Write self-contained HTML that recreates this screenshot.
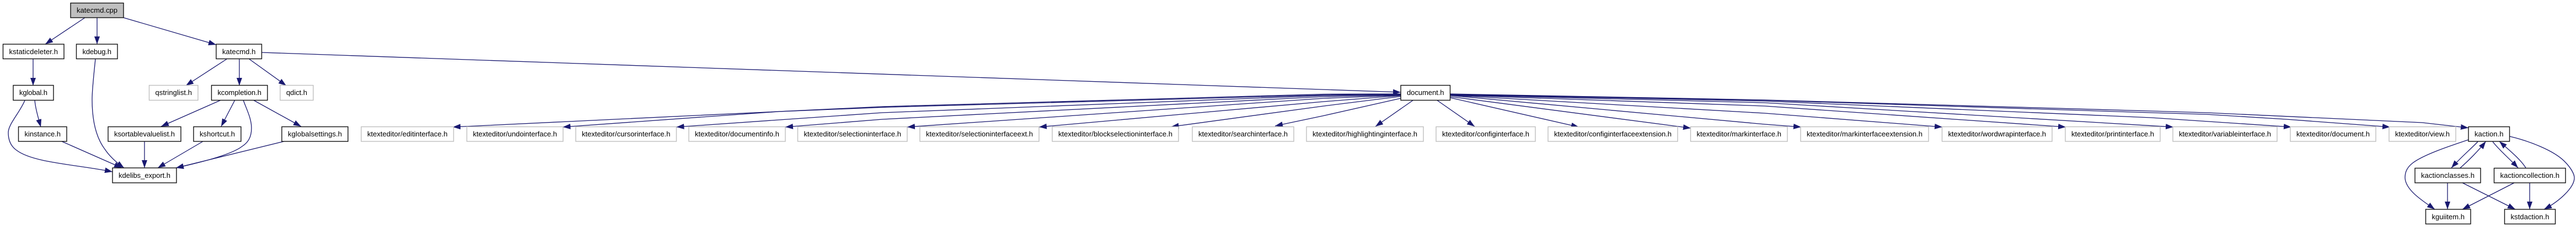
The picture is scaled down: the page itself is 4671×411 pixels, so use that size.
<!DOCTYPE html>
<html>
<head>
<meta charset="utf-8">
<title>katecmd.cpp include graph</title>
<style>
html,body{margin:0;padding:0;background:#fff;}
svg{display:block;}
text{font-family:"Liberation Sans",Arial,sans-serif;font-size:13px;fill:#000;text-anchor:middle;}
.e path{fill:none;stroke:#191970;stroke-width:1.3;marker-end:url(#a);}
.b rect{fill:#fff;stroke:#111;stroke-width:1.4;}
.g rect{fill:#fff;stroke:#bfbfbf;stroke-width:1.4;}
</style>
</head>
<body>
<svg width="4671" height="411" viewBox="0 0 4671 411" xmlns="http://www.w3.org/2000/svg">
<defs>
<marker id="a" markerUnits="userSpaceOnUse" markerWidth="14" markerHeight="10" refX="14" refY="5" orient="auto">
<path d="M0,0 L14,5 L0,10 Z" fill="#191970"/>
</marker>
</defs>

<g class="e">
<path d="M154,32 L82,80"/>
<path d="M176,32 L176,80"/>
<path d="M224,32 L392,81"/>
<path d="M60,107 L60,155"/>
<path d="M63,181 C64,195 69,212 74,230"/>
<path d="M45,182 C35,205 15,225 15,240 C15,255 20,265 30,272 C60,295 140,298 204,311"/>
<path d="M173,107 C170,135 167,165 167,180 C167,220 175,250 190,270 C200,285 215,297 225,304"/>
<path d="M112,256 L221,304"/>
<path d="M262,256 L262,304"/>
<path d="M368,256 L286,304"/>
<path d="M515,256 L319,304"/>
<path d="M441,181 C448,200 456,215 456,232 C456,248 450,258 439,265 C420,280 360,295 319,304"/>
<path d="M411,107 L337,155"/>
<path d="M434,107 L434,155"/>
<path d="M452,107 L519,155"/>
<path d="M475,95 L2540,167"/>
<path d="M401,181 L292,229"/>
<path d="M426,181 L401,229"/>
<path d="M459,181 L546,229"/>

<path d="M2540,170 L2400,170.5 L1600,193 L821,230"/>
<path d="M2540,170.5 L2400,172 L1600,194.3 L1412,202 L1020.5,230"/>
<path d="M2540,171 L2400,173 L1600,204 L1226.5,230"/>
<path d="M2540,172 L2400,175 L1600,216 L1424,230"/>
<path d="M2540,172.5 L2400,178 L1645,230"/>
<path d="M2540,173 L2400,184 L1884,230"/>
<path d="M2540,174.5 L2400,192 L2123.5,229.5"/>
<path d="M2540,178 L2400,209.5 L2312,228"/>
<path d="M2563,181 L2494,229"/>
<path d="M2605,181 L2674,229"/>
<path d="M2630,177 L2863,230"/>
<path d="M2630,175 L3066,232"/>
<path d="M2630,173 L3200,225 L3266,230"/>
<path d="M2630,172.5 L3200,205 L3522,230"/>
<path d="M2630,172 L3200,192 L3746,230"/>
<path d="M2630,171.5 L3200,186 L3941,230"/>
<path d="M2630,171 L3200,183 L3900,213 L4155,230"/>
<path d="M2630,170.5 L3200,181.5 L3900,204 L4000,207 L4146,216 L4334,230"/>
<path d="M2630,170 L3200,181 L3900,201 L4000,204 L4392,222 L4476,231.5"/>

<path d="M4476,253 C4440,265 4395,280 4375,295 C4362,305 4361,315 4361,322 C4362,345 4395,365 4415,379"/>
<path d="M4551,247 C4585,255 4630,272 4650,292 C4662,304 4668,315 4668,322 C4668,340 4640,365 4613,379"/>
<path d="M4493,256.5 C4480,270 4462,285 4445,304"/>
<path d="M4461,304 C4475,292 4495,272 4507.5,256"/>
<path d="M4520,256.5 C4530,270 4548,285 4566,304"/>
<path d="M4580,304 C4570,288 4550,272 4532,256"/>
<path d="M4438,331 L4438,379"/>
<path d="M4465,331 L4561,379"/>
<path d="M4559,331 L4465,379"/>
<path d="M4587,331 L4587,379"/>
</g>

<g class="b">
<rect x="128" y="5.5" width="96" height="26.5" style="fill:#bfbfbf"/><text x="176" y="23" textLength="74">katecmd.cpp</text>
<rect x="5.5" y="80" width="110.5" height="26.5"/><text x="60.75" y="98" textLength="88.5">kstaticdeleter.h</text>
<rect x="138.5" y="80" width="74.5" height="26.5"/><text x="175.75" y="98" textLength="52.5">kdebug.h</text>
<rect x="392" y="80" width="82.5" height="26.5"/><text x="433.25" y="98" textLength="60.5">katecmd.h</text>
<rect x="24" y="154.5" width="73" height="27"/><text x="60.5" y="172" textLength="51">kglobal.h</text>
<rect x="383.5" y="154.5" width="101.5" height="27"/><text x="434.25" y="172" textLength="79.5">kcompletion.h</text>
<rect x="2540" y="154.5" width="89.5" height="27"/><text x="2584.75" y="172" textLength="67.5">document.h</text>
<rect x="33.5" y="229.5" width="87.5" height="26.5"/><text x="77.25" y="247" textLength="65.5">kinstance.h</text>
<rect x="196" y="229.5" width="132" height="26.5"/><text x="262" y="247" textLength="110">ksortablevaluelist.h</text>
<rect x="351" y="229.5" width="86" height="26.5"/><text x="394" y="247" textLength="64">kshortcut.h</text>
<rect x="511" y="229.5" width="120" height="26.5"/><text x="571" y="247" textLength="98">kglobalsettings.h</text>
<rect x="4476" y="229.5" width="74.5" height="26.5"/><text x="4513.25" y="247" textLength="52.5">kaction.h</text>
<rect x="204" y="304" width="116" height="27"/><text x="262" y="322" textLength="94">kdelibs_export.h</text>
<rect x="4379" y="304.5" width="119" height="26.5"/><text x="4438.5" y="322" textLength="97">kactionclasses.h</text>
<rect x="4522.5" y="304.5" width="129.5" height="26.5"/><text x="4587.25" y="322" textLength="107.5">kactioncollection.h</text>
<rect x="4398.5" y="379" width="81.5" height="26.5"/><text x="4439.25" y="397" textLength="59.5">kguiitem.h</text>
<rect x="4541.5" y="379" width="92" height="26.5"/><text x="4587.5" y="397" textLength="70">kstdaction.h</text>
</g>

<g class="g">
<rect x="270.5" y="154.5" width="88.5" height="27"/><text x="314.75" y="172" textLength="66.5">qstringlist.h</text>
<rect x="508" y="154.5" width="60" height="27"/><text x="538" y="172" textLength="38">qdict.h</text>
<rect x="655" y="229.5" width="167.5" height="26.5"/><text x="738.75" y="247" textLength="145.5">ktexteditor/editinterface.h</text>
<rect x="846.5" y="229.5" width="174.5" height="26.5"/><text x="933.75" y="247" textLength="152.5">ktexteditor/undointerface.h</text>
<rect x="1044" y="229.5" width="182.5" height="26.5"/><text x="1135.25" y="247" textLength="160.5">ktexteditor/cursorinterface.h</text>
<rect x="1249" y="229.5" width="175" height="26.5"/><text x="1336.5" y="247" textLength="153">ktexteditor/documentinfo.h</text>
<rect x="1446.5" y="229.5" width="198.5" height="26.5"/><text x="1545.75" y="247" textLength="176.5">ktexteditor/selectioninterface.h</text>
<rect x="1668" y="229.5" width="216" height="26.5"/><text x="1776" y="247" textLength="194">ktexteditor/selectioninterfaceext.h</text>
<rect x="1908" y="229.5" width="229" height="26.5"/><text x="2022.5" y="247" textLength="207">ktexteditor/blockselectioninterface.h</text>
<rect x="2162" y="229.5" width="184" height="26.5"/><text x="2254" y="247" textLength="162">ktexteditor/searchinterface.h</text>
<rect x="2369" y="229.5" width="212" height="26.5"/><text x="2475" y="247" textLength="190">ktexteditor/highlightinginterface.h</text>
<rect x="2604" y="229.5" width="180" height="26.5"/><text x="2694" y="247" textLength="158">ktexteditor/configinterface.h</text>
<rect x="2807" y="229.5" width="235" height="26.5"/><text x="2924.5" y="247" textLength="213">ktexteditor/configinterfaceextension.h</text>
<rect x="3065.5" y="229.5" width="175.5" height="26.5"/><text x="3153.25" y="247" textLength="153.5">ktexteditor/markinterface.h</text>
<rect x="3265" y="229.5" width="232" height="26.5"/><text x="3381" y="247" textLength="210">ktexteditor/markinterfaceextension.h</text>
<rect x="3521.5" y="229.5" width="199.5" height="26.5"/><text x="3621.25" y="247" textLength="177.5">ktexteditor/wordwrapinterface.h</text>
<rect x="3745" y="229.5" width="172" height="26.5"/><text x="3831" y="247" textLength="150">ktexteditor/printinterface.h</text>
<rect x="3940" y="229.5" width="189" height="26.5"/><text x="4034.5" y="247" textLength="167">ktexteditor/variableinterface.h</text>
<rect x="4153" y="229.5" width="155" height="26.5"/><text x="4230.5" y="247" textLength="133">ktexteditor/document.h</text>
<rect x="4332" y="229.5" width="121" height="26.5"/><text x="4392.5" y="247" textLength="99">ktexteditor/view.h</text>
</g>
</svg>
</body>
</html>
